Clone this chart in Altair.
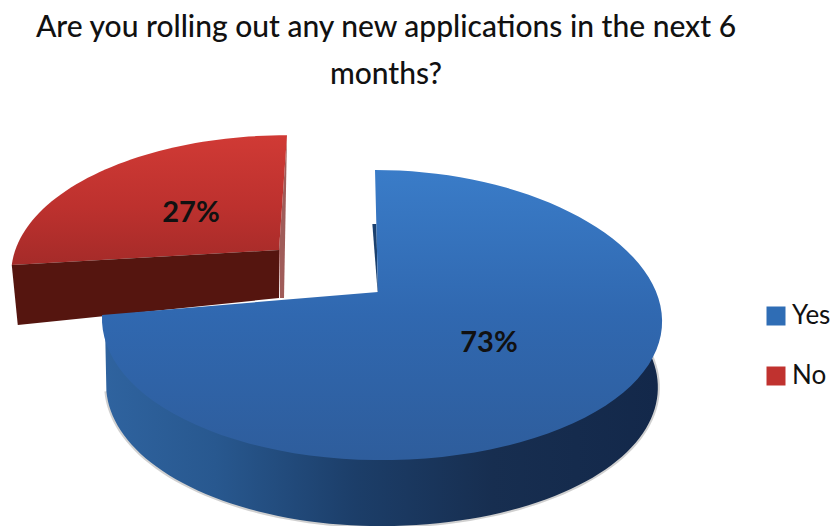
import math
import altair as alt
import pandas as pd

# Chart values
categories = ["Yes", "No"]
shares = [73, 27]
labels = ["73%", "27%"]
legend_colors = ["#2f6db5", "#c0322f"]
title_lines = ["Are you rolling out any new applications in the next 6", "months?"]

FONT = "Lato"
end_angle = 360 * shares[0] / sum(shares)


def project(theta, cx, cy, ax_l, ax_r, b, k, shear=0.0, bulge=0.0, drop=0.0, shrink=1.0):
    """Perspective view of a point on the pie's rim (theta clockwise from 12 o'clock)."""
    u, v = math.sin(math.radians(theta)), math.cos(math.radians(theta))
    w = 1 + k * v
    a = ax_l if u < 0 else ax_r
    return (cx + shrink * a * u / w + shear * v,
            cy - b * v / w + bulge * u * u + drop)


blue = dict(cx=378, cy=292, ax_l=273, ax_r=280, b=141.4, k=0.159, shear=-3, bulge=5)
red = dict(cx=279, cy=250, ax_l=263, ax_r=263, b=133, k=0.159, shear=8, bulge=-2)


def arc(params, a0, a1, n=90, **extra):
    return [project(a0 + (a1 - a0) * i / n, **params, **extra) for i in range(n + 1)]


def stops(*pairs):
    return [alt.GradientStop(offset=o, color=c) for o, c in pairs]


def grad(horizontal, *pairs):
    return alt.Gradient(gradient="linear", x1=0, y1=0, x2=1 if horizontal else 0,
                        y2=0 if horizontal else 1, stops=stops(*pairs))


xs = alt.Scale(domain=[8, 830], nice=False, zero=False)
ys = alt.Scale(domain=[526, 8], nice=False, zero=False)


def poly(points, **mark):
    df = pd.DataFrame(points, columns=["x", "y"]).assign(i=range(len(points)))
    return alt.Chart(df).mark_line(**mark).encode(
        x=alt.X("x:Q", scale=xs, axis=None),
        y=alt.Y("y:Q", scale=ys, axis=None),
        order="i:Q",
    )


# Red slice: exploded, back-left
red_top = [(red["cx"], red["cy"])] + arc(red, end_angle, 360, 50)
red_left, red_right = red_top[1], red_top[-1]
red_front = [(red["cx"], red["cy"]), red_left,
             (red_left[0] + 6, red_left[1] + 60), (red["cx"], red["cy"] + 48)]
red_side = [(red["cx"], red["cy"]), red_right,
            (red_right[0] - 3, red["cy"] + 48), (red["cx"] + 1, red["cy"] + 48)]

# Blue slice
blue_top = [(blue["cx"], blue["cy"])] + arc(blue, 0, end_angle)
rim = arc(blue, 85, end_angle, 90, drop=-1, shrink=0.99)
rim_low = arc(blue, 85, end_angle - 4, 90, drop=66, shrink=0.985)
blue_wall = rim + rim_low[::-1]
apex = (blue["cx"], blue["cy"] + 1)
upper = (blue["cx"] - 3 * 0.55, blue["cy"] - 68)
blue_inner = [apex, upper, (upper[0] - 4, upper[1]), (apex[0], apex[1] + 4)]

layers = [
    poly(red_side, fill="#8f3f3c", strokeWidth=0, opacity=0.85),
    poly(red_top, fill=grad(False, (0, "#d03a35"), (0.55, "#bd312e"), (1, "#a52b29")), strokeWidth=0),
    poly(red_front, fill="#55150f", strokeWidth=0),
    poly(rim_low, stroke="#8a8a8a", strokeWidth=4, opacity=0.4),
    poly(blue_inner, fill="#1b416f", strokeWidth=0),
    poly(blue_wall, fill=grad(True, (0, "#2f639f"), (0.2, "#28588f"), (0.45, "#1c3e69"),
                              (0.7, "#172e50"), (1, "#13284a")), strokeWidth=0),
    poly(blue_top, fill=grad(False, (0, "#3a7cc8"), (0.5, "#3068b0"), (1, "#2e5d9c")), strokeWidth=0),
]

# Percent labels
label_df = pd.DataFrame({"x": [489, 191], "y": [343, 213], "t": labels})
layers.append(alt.Chart(label_df).mark_text(font=FONT, fontSize=29, fontWeight="bold", color="#111111").encode(
    x=alt.X("x:Q", scale=xs, axis=None), y=alt.Y("y:Q", scale=ys, axis=None), text="t:N"))

# Legend carried by an invisible layer
legend_df = pd.DataFrame({"cat": categories, "x": [0, 0], "y": [0, 0]})
layers.append(alt.Chart(legend_df).mark_square(opacity=0, size=1).encode(
    x=alt.X("x:Q", scale=xs, axis=None), y=alt.Y("y:Q", scale=ys, axis=None),
    color=alt.Color("cat:N", scale=alt.Scale(domain=categories, range=legend_colors),
                    legend=alt.Legend(title=None, orient="none", legendX=755, legendY=295,
                                      symbolType="square", symbolSize=361, symbolOpacity=1,
                                      symbolStrokeWidth=0, labelFont=FONT, labelFontSize=26,
                                      labelColor="#111111", rowPadding=34, labelOffset=3))))

chart = alt.layer(*layers).properties(
    width=822, height=518,
    padding=0,
    background="white",
    autosize=alt.AutoSizeParams(type="none"),
    title=alt.TitleParams(text=title_lines, font=FONT, fontSize=30, fontWeight=500, color="#111111",
                          anchor="middle", dx=-33, offset=-90, lineHeight=47, baseline="top"),
).configure_view(stroke=None)

chart.save("out.html", embed_options={"renderer": "svg", "actions": False})
